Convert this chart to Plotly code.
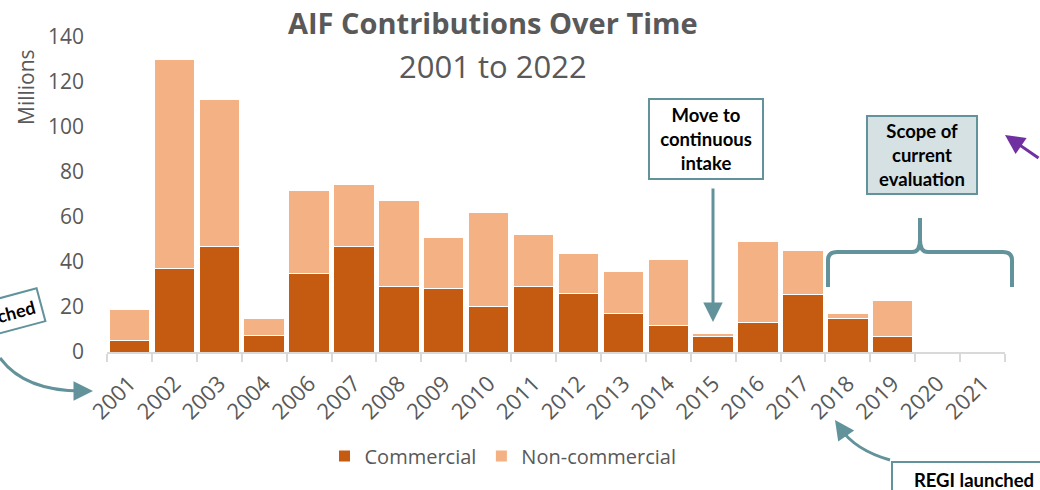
import plotly.graph_objects as go

years = ["2001", "2002", "2003", "2004", "2006", "2007", "2008", "2009", "2010", "2011",
         "2012", "2013", "2014", "2015", "2016", "2017", "2018", "2019", "2020", "2021"]
commercial = [5.0, 37.3, 47.0, 7.3, 34.7, 47.0, 29.3, 28.3, 20.1, 28.9,
              26.1, 17.3, 12.0, 6.7, 13.0, 25.5, 14.8, 6.7, 0, 0]
total = [19.0, 130.2, 112.4, 14.7, 71.7, 74.4, 67.4, 50.7, 62.1, 52.3,
         43.7, 35.6, 40.9, 8.3, 49.0, 45.3, 17.3, 22.8, 0, 0]
non_commercial = [round(t - c, 1) for t, c in zip(total, commercial)]

W, H = 1040, 490
L, R, T, B = 107, 1005, 37, 352  # plot area in pixels

def px(x):
    return (x - L) / (R - L)

def py(y):
    return (B - y) / (B - T)

TEAL = "#62939B"
GRAY = "#595959"
FONT = "Open Sans"
BOXFONT = "Lato"

fig = go.Figure()
fig.add_trace(go.Bar(x=years, y=commercial, name="Commercial",
                     marker=dict(color="#C55A11", line=dict(color="white", width=1))))
fig.add_trace(go.Bar(x=years, y=non_commercial, name="Non-commercial",
                     marker=dict(color="#F4B183", line=dict(color="white", width=1))))

fig.update_layout(
    width=W, height=H, barmode="stack", bargap=0.1,
    margin=dict(l=L, r=W - R, t=T, b=H - B, pad=0),
    plot_bgcolor="white", paper_bgcolor="white",
    font=dict(family=FONT, color=GRAY, size=20),
    showlegend=True,
    legend=dict(orientation="h", x=px(503), y=py(456), xanchor="center", yanchor="middle",
                font=dict(size=20, color=GRAY), itemwidth=30, traceorder="normal"),
    xaxis=dict(type="category", tickangle=-45, tickson="boundaries", ticks="outside",
               ticklen=8, tickwidth=2, tickcolor="#D9D9D9", showline=True,
               linecolor="#D9D9D9", linewidth=2, showgrid=False, ticklabelstandoff=8,
               tickfont=dict(size=22, color=GRAY)),
    yaxis=dict(range=[0, 140], dtick=20, showgrid=False, zeroline=False, showline=False,
               ticks="", tickfont=dict(size=21, color=GRAY), ticklabelstandoff=22),
)

ann = []
# titles
ann.append(dict(text="<b>AIF Contributions Over Time</b>", x=px(493), y=py(23), xref="paper", yref="paper",
                showarrow=False, font=dict(size=29, color=GRAY, family=FONT), xanchor="center", yanchor="middle"))
ann.append(dict(text="2001 to 2022", x=px(493), y=py(66), xref="paper", yref="paper",
                showarrow=False, font=dict(size=31, color=GRAY, family=FONT), xanchor="center", yanchor="middle"))
ann.append(dict(text="Millions", x=px(26), y=py(87), xref="paper", yref="paper", textangle=-90,
                showarrow=False, font=dict(size=21, color=GRAY, family=FONT), xanchor="center", yanchor="middle"))

# boxes
ann.append(dict(text="<b>Move to<br>continuous<br>intake</b>", x=px(706), y=py(139), xref="paper", yref="paper",
                showarrow=False, font=dict(size=18.5, color="black", family=BOXFONT),
                bgcolor="white", bordercolor=TEAL, borderwidth=2, borderpad=4, width=104,
                xanchor="center", yanchor="middle"))
ann.append(dict(text="<b>Scope of<br>current<br>evaluation</b>", x=px(922), y=py(155), xref="paper", yref="paper",
                showarrow=False, font=dict(size=18.5, color="black", family=BOXFONT),
                bgcolor="#D6E1E4", bordercolor=TEAL, borderwidth=2, borderpad=3, width=102,
                xanchor="center", yanchor="middle"))
ann.append(dict(text="<b>REGI launched</b>", x=px(891), y=py(461), xref="paper", yref="paper",
                showarrow=False, font=dict(size=18.5, color="black", family=BOXFONT),
                bgcolor="white", bordercolor=TEAL, borderwidth=2, borderpad=6, width=150,
                xanchor="left", yanchor="top"))
ann.append(dict(text="<b>AIF launched</b>", x=px(-16), y=py(320), xref="paper", yref="paper",
                showarrow=False, font=dict(size=18, color="black", family=BOXFONT), textangle=-15,
                bgcolor="white", bordercolor=TEAL, borderwidth=2, borderpad=5,
                xanchor="center", yanchor="middle"))

# straight arrows
ann.append(dict(text="", x=px(713), y=py(322), xref="paper", yref="paper", showarrow=True,
                ax=0, ay=-135, arrowhead=2, arrowsize=1.3, arrowwidth=3, arrowcolor=TEAL))
ann.append(dict(text="", x=px(1005), y=py(135), xref="paper", yref="paper", showarrow=True,
                ax=38, ay=24, arrowhead=2, arrowsize=1.3, arrowwidth=3, arrowcolor="#7030A0"))
# arrowheads for curved arrows
ann.append(dict(text="", x=px(835), y=py(420), xref="paper", yref="paper", showarrow=True,
                ax=7, ay=10, arrowhead=2, arrowsize=1.3, arrowwidth=3, arrowcolor=TEAL))
ann.append(dict(text="", x=px(93), y=py(391), xref="paper", yref="paper", showarrow=True,
                ax=-10, ay=0, arrowhead=2, arrowsize=1.3, arrowwidth=3, arrowcolor=TEAL))
fig.update_layout(annotations=ann)

def P(x, y):
    return f"{px(x)},{py(y)}"

shapes = []
# curly brace
brace = (f"M {P(828,287)} L {P(828,260)} Q {P(828,252)} {P(837,252)} L {P(912,252)} "
         f"Q {P(920,252)} {P(920,240)} L {P(920,218)} L {P(920,240)} Q {P(920,252)} {P(928,252)} "
         f"L {P(1003,252)} Q {P(1012,252)} {P(1012,260)} L {P(1012,287)}")
shapes.append(dict(type="path", path=brace, xref="paper", yref="paper",
                   line=dict(color=TEAL, width=4)))
# curved arrow bodies
shapes.append(dict(type="path", path=f"M {P(890,460)} Q {P(855,450)} {P(840,428)}",
                   xref="paper", yref="paper", line=dict(color=TEAL, width=3)))
shapes.append(dict(type="path", path=f"M {P(0,358)} Q {P(25,392)} {P(85,391)}",
                   xref="paper", yref="paper", line=dict(color=TEAL, width=3)))
fig.update_layout(shapes=shapes)

fig.write_html("out.html")
